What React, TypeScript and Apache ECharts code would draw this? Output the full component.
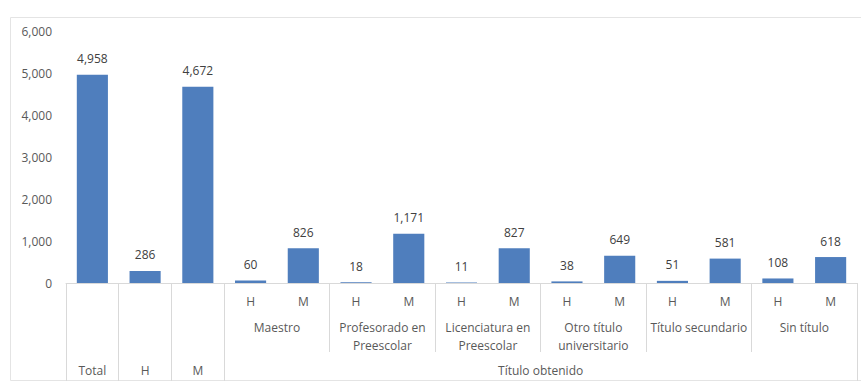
import React, { useEffect, useRef } from "react";
import * as echarts from "echarts";

const barLabels = ["Total", "H", "M", "H", "M", "H", "M", "H", "M", "H", "M", "H", "M", "H", "M"];
const values = [4958, 286, 4672, 60, 826, 18, 1171, 11, 827, 38, 649, 51, 581, 108, 618];
const topLevelSingles = ["Total", "H", "M"];
const groups = [
  "Maestro",
  "Profesorado en\nPreescolar",
  "Licenciatura en\nPreescolar",
  "Otro título\nuniversitario",
  "Título secundario",
  "Sin título",
];
const outerGroup = "Título obtenido";
const yTicks = [0, 1000, 2000, 3000, 4000, 5000, 6000];

const FONT = "'Open Sans', 'Noto Sans', sans-serif";
const TEXT = "#595959";
const LINE = "#d9d9d9";

export default function App() {
  const ref = useRef<HTMLDivElement>(null);
  useEffect(() => {
    if (!ref.current) return;
    const chart = echarts.init(ref.current, null, { renderer: "svg" });
    const n = barLabels.length;
    const singles = topLevelSingles.length;
    const row1 = barLabels.map((l, i) => (i < singles ? "" : l));
    const row3 = barLabels.map((l, i) => (i < singles ? l : ""));
    const half = Array.from({ length: 2 * n + 1 }, (_, k) => String(k));
    const groupIdx = groups.map((_, g) => 2 * singles + 4 * g + 2);
    const groupLabel = (k: number) => {
      const g = groupIdx.indexOf(k);
      return g >= 0 ? groups[g] : "";
    };
    const outerIdx = (2 * singles + 2 * n) / 2;
    const fullTicks = new Set<number>();
    for (let i = 0; i <= singles; i++) fullTicks.add(2 * i);
    fullTicks.add(2 * n);
    const shortTicks = new Set<number>();
    for (let g = 1; g < groups.length; g++) shortTicks.add(2 * singles + 4 * g);

    const baseAxis = {
      type: "category" as const,
      gridIndex: 0,
      position: "bottom" as const,
      axisLine: { show: false },
      axisTick: { show: false },
      splitLine: { show: false },
    };

    chart.setOption({
      animation: false,
      backgroundColor: "#ffffff",
      grid: { left: 66, right: 4, top: 31, bottom: 98, containLabel: false },
      graphic: [
        {
          type: "rect",
          left: 8,
          top: 15,
          shape: { width: 852, height: 363 },
          style: { fill: "none", stroke: "#e4e4e4", lineWidth: 1 },
          silent: true,
          z: -1,
        },
      ],
      yAxis: {
        type: "value",
        min: 0,
        max: yTicks[yTicks.length - 1],
        interval: yTicks[1] - yTicks[0],
        axisLine: { show: false },
        axisTick: { show: false },
        splitLine: { show: false },
        axisLabel: {
          color: TEXT,
          fontFamily: FONT,
          fontSize: 12,
          margin: 14,
          formatter: (v: number) => v.toLocaleString("en-US"),
        },
      },
      xAxis: [
        {
          ...baseAxis,
          data: row1,
          axisLine: { show: true, lineStyle: { color: LINE, width: 1 } },
          axisLabel: { interval: 0, color: TEXT, fontFamily: FONT, fontSize: 12, margin: 12 },
        },
        {
          ...baseAxis,
          data: row3,
          offset: 77,
          axisLabel: { interval: 0, color: TEXT, fontFamily: FONT, fontSize: 12, margin: 4 },
        },
        {
          ...baseAxis,
          data: half,
          boundaryGap: false,
          offset: 31,
          axisLabel: {
            interval: 0,
            color: TEXT,
            fontFamily: FONT,
            fontSize: 12,
            margin: 4,
            lineHeight: 18,
            formatter: (_v: string, k: number) => groupLabel(k),
          },
        },
        {
          ...baseAxis,
          data: half,
          boundaryGap: false,
          offset: 77,
          axisLabel: {
            interval: 0,
            color: TEXT,
            fontFamily: FONT,
            fontSize: 12,
            margin: 4,
            formatter: (_v: string, k: number) => (k === outerIdx ? outerGroup : ""),
          },
        },
        {
          ...baseAxis,
          data: half,
          boundaryGap: false,
          axisTick: {
            show: true,
            length: 100,
            interval: (k: number) => fullTicks.has(k),
            lineStyle: { color: LINE, width: 1 },
          },
          axisLabel: { show: false },
        },
        {
          ...baseAxis,
          data: half,
          boundaryGap: false,
          axisTick: {
            show: true,
            length: 69,
            interval: (k: number) => shortTicks.has(k),
            lineStyle: { color: LINE, width: 1 },
          },
          axisLabel: { show: false },
        },
      ],
      series: [
        {
          type: "bar",
          xAxisIndex: 0,
          yAxisIndex: 0,
          data: values,
          barCategoryGap: "41%",
          itemStyle: { color: "#4F7EBD" },
          label: {
            show: true,
            position: "top",
            distance: 10,
            color: "#404040",
            fontFamily: FONT,
            fontSize: 12,
            formatter: (p: any) => Number(p.value).toLocaleString("en-US"),
          },
        },
      ],
    });
    return () => chart.dispose();
  }, []);
  return (
    <div
      ref={ref}
      style={{ position: "fixed", left: 0, top: 0, width: 861, height: 381, background: "#fff" }}
    />
  );
}
